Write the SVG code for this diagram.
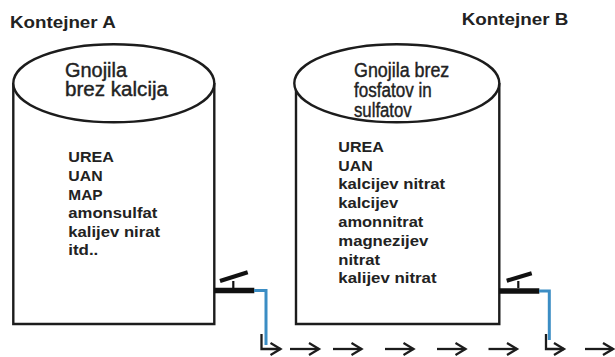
<svg xmlns="http://www.w3.org/2000/svg" width="615" height="357" viewBox="0 0 615 357">
<defs>
<style>
.line{fill:none;stroke:#1c1c1c;stroke-width:2.4}
.top{fill:#fff;stroke:#1c1c1c;stroke-width:2.4}
.title{font-family:"Liberation Sans",Arial,sans-serif;font-weight:bold;font-size:17px;fill:#222}
.lid{font-family:"Liberation Sans",Arial,sans-serif;font-size:19.5px;fill:#222;stroke:#222;stroke-width:0.4}
.list{font-family:"Liberation Sans",Arial,sans-serif;font-weight:bold;font-size:15.5px;fill:#222}
.bar{stroke:#111;stroke-width:5.5;fill:none}
.handle{stroke:#111;stroke-width:4.2;fill:none}
.stem{stroke:#111;stroke-width:2.2;fill:none}
.pipe{stroke:#3b8dc4;stroke-width:3;fill:none}
.arrow{stroke:#1c1c1c;stroke-width:2.3;fill:none;marker-end:url(#head)}
</style>
<marker id="head" markerUnits="userSpaceOnUse" markerWidth="14" markerHeight="16" refX="11" refY="7" orient="auto" viewBox="0 0 14 14">
<path d="M1,1 L11,7 L1,13" fill="none" stroke="#1c1c1c" stroke-width="2.3"/>
</marker>
</defs>
<rect width="615" height="357" fill="#fff"/>
<g id="containerA">
<text class="title" x="10" y="28.3" textLength="105.7" lengthAdjust="spacingAndGlyphs">Kontejner A</text>
<path class="line" d="M13.3,83 V324 H214.3 V83"/>
<ellipse class="top" cx="113.8" cy="83.2" rx="100.5" ry="39"/>
<text class="lid" x="65" y="76.7" textLength="62" lengthAdjust="spacingAndGlyphs">Gnojila</text>
<text class="lid" x="65" y="95.5" textLength="103" lengthAdjust="spacingAndGlyphs">brez kalcija</text>
<g class="list">
<text x="68.3" y="162" textLength="45.7" lengthAdjust="spacingAndGlyphs">UREA</text>
<text x="68.3" y="180.7" textLength="34.3" lengthAdjust="spacingAndGlyphs">UAN</text>
<text x="68.3" y="200" textLength="34.3" lengthAdjust="spacingAndGlyphs">MAP</text>
<text x="68.3" y="218.3" textLength="89" lengthAdjust="spacingAndGlyphs">amonsulfat</text>
<text x="68.3" y="236.7" textLength="91.7" lengthAdjust="spacingAndGlyphs">kalijev nirat</text>
<text x="68.3" y="255" textLength="30" lengthAdjust="spacingAndGlyphs">itd..</text>
</g>
<g id="tapA">
<path class="bar" d="M214,290.5 H254.3"/>
<path class="stem" d="M233.3,281 V288"/>
<path class="handle" d="M220,281 L247.7,272.3"/>
<path class="pipe" d="M254,290.5 H266 V345"/>
</g>
</g>
<g id="containerB">
<text class="title" x="461.7" y="25" textLength="106.7" lengthAdjust="spacingAndGlyphs">Kontejner B</text>
<path class="line" d="M296,83 V324 H499.3 V83"/>
<ellipse class="top" cx="396.8" cy="83.2" rx="102.5" ry="39"/>
<text class="lid" x="354" y="77.3" textLength="95.3" lengthAdjust="spacingAndGlyphs">Gnojila brez</text>
<text class="lid" x="354" y="96.7" textLength="77.7" lengthAdjust="spacingAndGlyphs">fosfatov in</text>
<text class="lid" x="354" y="116.7" textLength="57.7" lengthAdjust="spacingAndGlyphs">sulfatov</text>
<g class="list">
<text x="338.3" y="151.7" textLength="45.7" lengthAdjust="spacingAndGlyphs">UREA</text>
<text x="338.3" y="170.5" textLength="34.3" lengthAdjust="spacingAndGlyphs">UAN</text>
<text x="338.3" y="189.3" textLength="106.7" lengthAdjust="spacingAndGlyphs">kalcijev nitrat</text>
<text x="338.3" y="208.1" textLength="60" lengthAdjust="spacingAndGlyphs">kalcijev</text>
<text x="338.3" y="226.9" textLength="85" lengthAdjust="spacingAndGlyphs">amonnitrat</text>
<text x="338.3" y="245.7" textLength="90" lengthAdjust="spacingAndGlyphs">magnezijev</text>
<text x="338.3" y="264.5" textLength="41.7" lengthAdjust="spacingAndGlyphs">nitrat</text>
<text x="338.3" y="283.3" textLength="98.3" lengthAdjust="spacingAndGlyphs">kalijev nitrat</text>
</g>
<g id="tapB">
<path class="bar" d="M499,291 H539.3"/>
<path class="stem" d="M518.3,281 V288"/>
<path class="handle" d="M506.7,280.7 L531.7,273.3"/>
<path class="pipe" d="M539,291 H549.3 V340"/>
</g>
</g>
<g id="connectors">
<path class="arrow" d="M261.5,334 V349 H280.5"/>
<path class="arrow" d="M290,349 H319"/>
<path class="arrow" d="M333,349 H361.5"/>
<path class="arrow" d="M385,349 H413.5"/>
<path class="arrow" d="M437,349 H465.5"/>
<path class="arrow" d="M488.5,349 H517"/>
<path class="arrow" d="M546,334 V349 H564"/>
<path class="arrow" d="M585,349 H613"/>
</g>
</svg>
